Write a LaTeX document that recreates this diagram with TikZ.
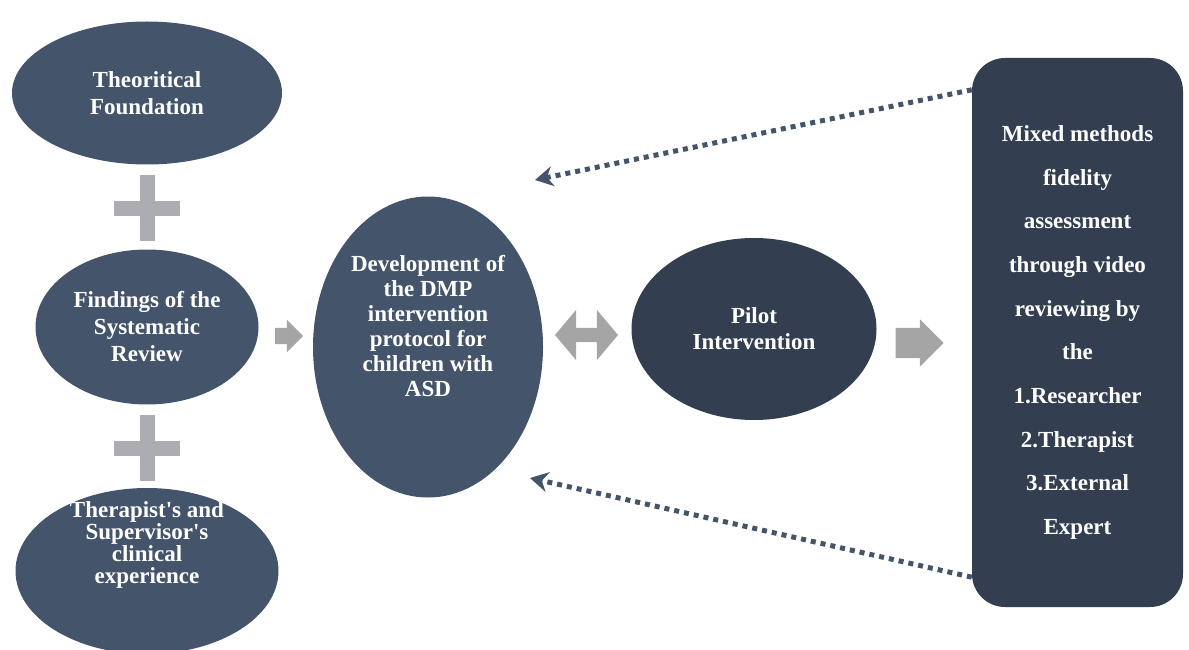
\documentclass[tikz,border=0pt]{standalone}
\usepackage{fontspec}
\setmainfont{Liberation Serif}
\usetikzlibrary{shapes.geometric,shapes.arrows,shapes.misc,arrows.meta}

\definecolor{slate}{HTML}{44546A}
\definecolor{navy}{HTML}{333F50}
\definecolor{arrowgray}{HTML}{A5A5A5}
\definecolor{plusgray}{HTML}{ABADB3}

\begin{document}
\begin{tikzpicture}[
  x=1pt, y=-1pt,
  oval/.style={ellipse, fill=slate, text=white, align=center, inner sep=0pt,
    font=\bfseries\fontsize{23}{27}\selectfont},
  darkoval/.style={oval, fill=navy, font=\bfseries\fontsize{23}{26}\selectfont},
  lbl/.style={text=white, align=center, inner sep=0pt},
  sidebox/.style={rectangle, rounded corners=33pt, fill=navy, text=white,
    align=center, inner sep=0pt, font=\bfseries\fontsize{23}{43.7}\selectfont},
  plussign/.style={cross out, draw=plusgray, line width=15pt, rotate=45,
    minimum size=31pt, inner sep=0pt},
  grayarrow/.style={single arrow, fill=arrowgray, inner xsep=0pt,
    single arrow tip angle=90},
  backarrow/.style={draw=slate, line width=5pt, dash pattern=on 5pt off 5pt,
    -{Stealth[length=18pt,width=20pt]}}
]
  \useasboundingbox (0,0) rectangle (1189,650);

  % left column
  \node[oval, minimum width=270pt, minimum height=143pt] (theory) at (147,93)
    {Theoritical\\Foundation};
  \node[plussign] (plusA) at (147,208) {};
  \node[oval, minimum width=223pt, minimum height=155pt] (review) at (147,327)
    {Findings of the\\Systematic\\Review};
  \node[plussign] (plusB) at (147,448) {};
  \node[oval, minimum width=263pt, minimum height=166pt,
    label={[lbl, yshift=26pt, font=\bfseries\fontsize{23}{21.7}\selectfont]center:%
      {Therapist\textquotesingle s and\\Supervisor\textquotesingle s\\clinical\\experience}}] (clinic) at (147,571) {};

  % protocol, pilot, fidelity
  \node[oval, minimum width=230pt, minimum height=301pt,
    label={[lbl, yshift=21pt, font=\bfseries\fontsize{23}{25}\selectfont]center:%
      {Development of\\the DMP\\intervention\\protocol for\\children with\\ASD}}] (dmp) at (428,347) {};
  \node[darkoval, minimum width=245pt, minimum height=182pt] (pilot) at (754,329)
    {Pilot\\Intervention};
  \node[sidebox, minimum width=211pt, minimum height=549pt] (fidelity) at (1077.5,332.5)
    {Mixed methods\\fidelity\\assessment\\through video\\reviewing by\\the\\1.Researcher\\2.Therapist\\3.External\\Expert};

  % block arrows
  \node[grayarrow, inner ysep=8pt, minimum height=28pt, minimum width=32pt,
    single arrow head extend=8pt] (inA) at (285,336) {};
  \node[double arrow, fill=arrowgray, inner xsep=0pt, inner ysep=7pt,
    double arrow tip angle=100, minimum height=63pt, minimum width=50pt,
    double arrow head extend=18pt] (both) at (586.5,335) {};
  \node[grayarrow, inner ysep=15pt, minimum height=48pt, minimum width=47pt,
    single arrow head extend=8.5pt] (toFid) at (912,343) {};

  % feedback
  \coordinate (tipA) at (535,180);
  \coordinate (tipB) at (530,478);
  \draw[backarrow] ([yshift=-32pt]fidelity.north west) -- (tipA);
  \draw[backarrow] ([yshift=30pt]fidelity.south west) -- (tipB);
\end{tikzpicture}
\end{document}
